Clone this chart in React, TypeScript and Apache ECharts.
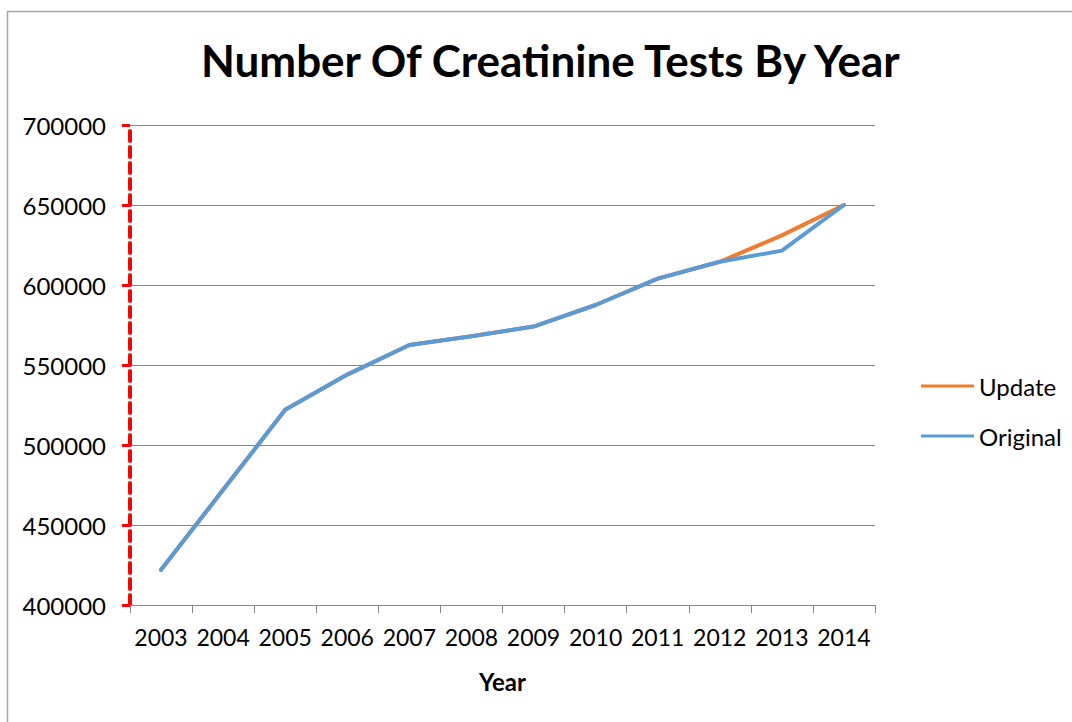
import React, { useEffect, useRef } from "react";
import * as echarts from "echarts";

// Years on the category axis
const years = ["2003", "2004", "2005", "2006", "2007", "2008", "2009", "2010", "2011", "2012", "2013", "2014"];

// Creatinine test counts per year
const updateValues = [422000, 472000, 522000, 544000, 562500, 568000, 574000, 587500, 604000, 614500, 631000, 650000];
const originalValues = [422000, 472000, 522000, 544000, 562500, 568000, 574000, 587500, 604000, 614500, 621500, 650000];

// Value axis range
const yMin = 400000;
const yMax = 700000;
const yStep = 50000;

const FONT = "Lato, 'Open Sans', sans-serif";

export default function App() {
  const ref = useRef<HTMLDivElement>(null);

  useEffect(() => {
    if (!ref.current) return;
    const chart = echarts.init(ref.current, undefined, { renderer: "svg" });
    chart.setOption({
      animation: false,
      backgroundColor: "#ffffff",
      textStyle: { fontFamily: FONT, color: "#000" },
      title: {
        text: "Number Of Creatinine Tests By Year",
        left: 196,
        top: 33,
        textStyle: { fontFamily: FONT, fontWeight: "bold", fontSize: 44, color: "#000" },
      },
      graphic: [
        {
          type: "rect",
          shape: { x: 7.5, y: 11.5, width: 1200, height: 900 },
          style: { fill: "none", stroke: "#a6a6a6", lineWidth: 1.5 },
          silent: true,
        },
      ],
      legend: {
        orient: "vertical",
        left: 916,
        top: 369,
        icon: "rect",
        itemWidth: 53,
        itemHeight: 3,
        itemGap: 26,
        textStyle: { fontFamily: FONT, fontSize: 24, color: "#000", lineHeight: 24 },
        data: ["Update", "Original"],
      },
      grid: { left: 130, right: 197, top: 125, bottom: 117, containLabel: false },
      xAxis: {
        type: "category",
        data: years,
        boundaryGap: true,
        name: "Year",
        nameLocation: "middle",
        nameGap: 64,
        nameTextStyle: { fontFamily: FONT, fontWeight: "bold", fontSize: 24, color: "#000" },
        axisLine: { show: true, lineStyle: { color: "#868686", width: 1 } },
        axisTick: { show: true, length: 8, lineStyle: { color: "#868686", width: 1 } },
        axisLabel: { fontFamily: FONT, fontSize: 23, color: "#000", margin: 20, interval: 0 },
        splitLine: { show: false },
      },
      yAxis: {
        type: "value",
        min: yMin,
        max: yMax,
        interval: yStep,
        axisLine: { show: true, lineStyle: { color: "#ff0000", width: 4, type: [10, 6] } },
        axisTick: { show: true, length: 8, lineStyle: { color: "#ff0000", width: 3 } },
        axisLabel: {
          fontFamily: FONT,
          fontSize: 24,
          color: "#000",
          margin: 24,
          formatter: (v: number) => String(v),
        },
        splitLine: { show: true, lineStyle: { color: "#868686", width: 1 } },
      },
      series: [
        {
          name: "Update",
          type: "line",
          data: updateValues,
          showSymbol: false,
          symbol: "none",
          lineStyle: { color: "#ED7D31", width: 4, cap: "round", join: "round" },
          itemStyle: { color: "#ED7D31" },
          z: 2,
        },
        {
          name: "Original",
          type: "line",
          data: originalValues,
          showSymbol: false,
          symbol: "none",
          lineStyle: { color: "#5B9BD5", width: 4, cap: "round", join: "round" },
          itemStyle: { color: "#5B9BD5" },
          z: 3,
        },
      ],
    });
    return () => chart.dispose();
  }, []);

  return (
    <div
      ref={ref}
      style={{ position: "fixed", left: 0, top: 0, width: 1072, height: 722 }}
    />
  );
}
